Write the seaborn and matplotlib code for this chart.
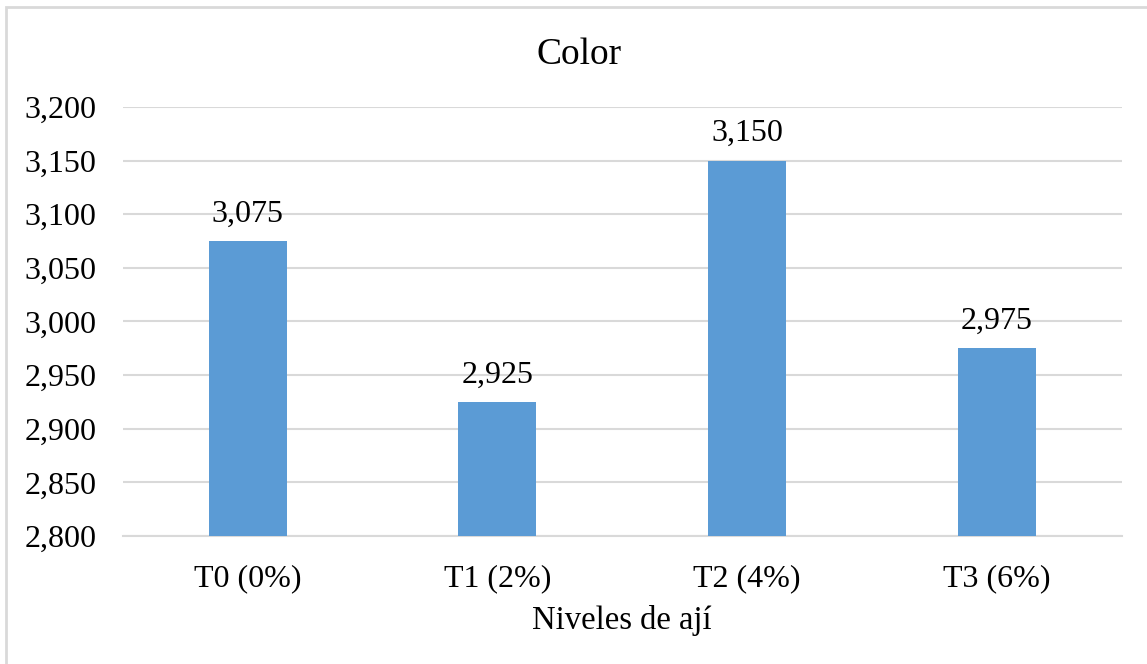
import seaborn as sns
import matplotlib.pyplot as plt
import matplotlib.ticker as mticker
from matplotlib.patches import Rectangle
import pandas as pd

niveles = ["T0 (0%)", "T1 (2%)", "T2 (4%)", "T3 (6%)"]
color_vals = [3.075, 2.925, 3.150, 2.975]
yticks = [2.800, 2.850, 2.900, 2.950, 3.000, 3.050, 3.100, 3.150, 3.200]

df = pd.DataFrame({"nivel": niveles, "color": color_vals})

sns.set_style("white")
plt.rcParams["font.family"] = ["Liberation Serif", "DejaVu Serif"]
plt.rcParams["text.color"] = "black"
plt.rcParams["xtick.color"] = "black"
plt.rcParams["ytick.color"] = "black"
plt.rcParams["axes.labelcolor"] = "black"


def coma(v, pos=None):
    return f"{v:,.3f}".replace(".", ",")


fig = plt.figure(figsize=(11.47, 6.64), dpi=100)
ax = fig.add_axes([0.1072, 0.1928, 0.8706, 0.6461])

sns.barplot(data=df, x="nivel", y="color", color="#5B9BD5", width=0.312,
            saturation=1, linewidth=0, ax=ax, zorder=3)

ax.set_ylim(2.8, 3.2)
ax.set_yticks(yticks)
ax.yaxis.set_major_formatter(mticker.FuncFormatter(coma))
ax.grid(axis="y", color="#d9d9d9", linewidth=1.5, zorder=0)
ax.set_axisbelow(True)

for s in ["top", "right", "left"]:
    ax.spines[s].set_visible(False)
ax.spines["bottom"].set_color("#d9d9d9")
ax.spines["bottom"].set_linewidth(1.5)

ax.tick_params(axis="y", length=0, pad=19, labelsize=23)
ax.tick_params(axis="x", length=0, pad=20, labelsize=23)
ax.set_ylabel("")
ax.set_xlabel("Niveles de ají", fontsize=23.5, labelpad=9)

ax.bar_label(ax.containers[0], labels=[coma(v) for v in color_vals],
             padding=9, fontsize=23)

fig.text(0.505, 1 - 55 / 664, "Color", ha="center", va="center", fontsize=27)

# chart frame (only left and top edges lie inside the image)
fig.patches.append(Rectangle((6 / 1147, -0.05), 1.1, 1 - 7 / 664 + 0.05,
                             transform=fig.transFigure, fill=False,
                             edgecolor="#d9d9d9", linewidth=2))

fig.savefig("out.png", dpi=100)
